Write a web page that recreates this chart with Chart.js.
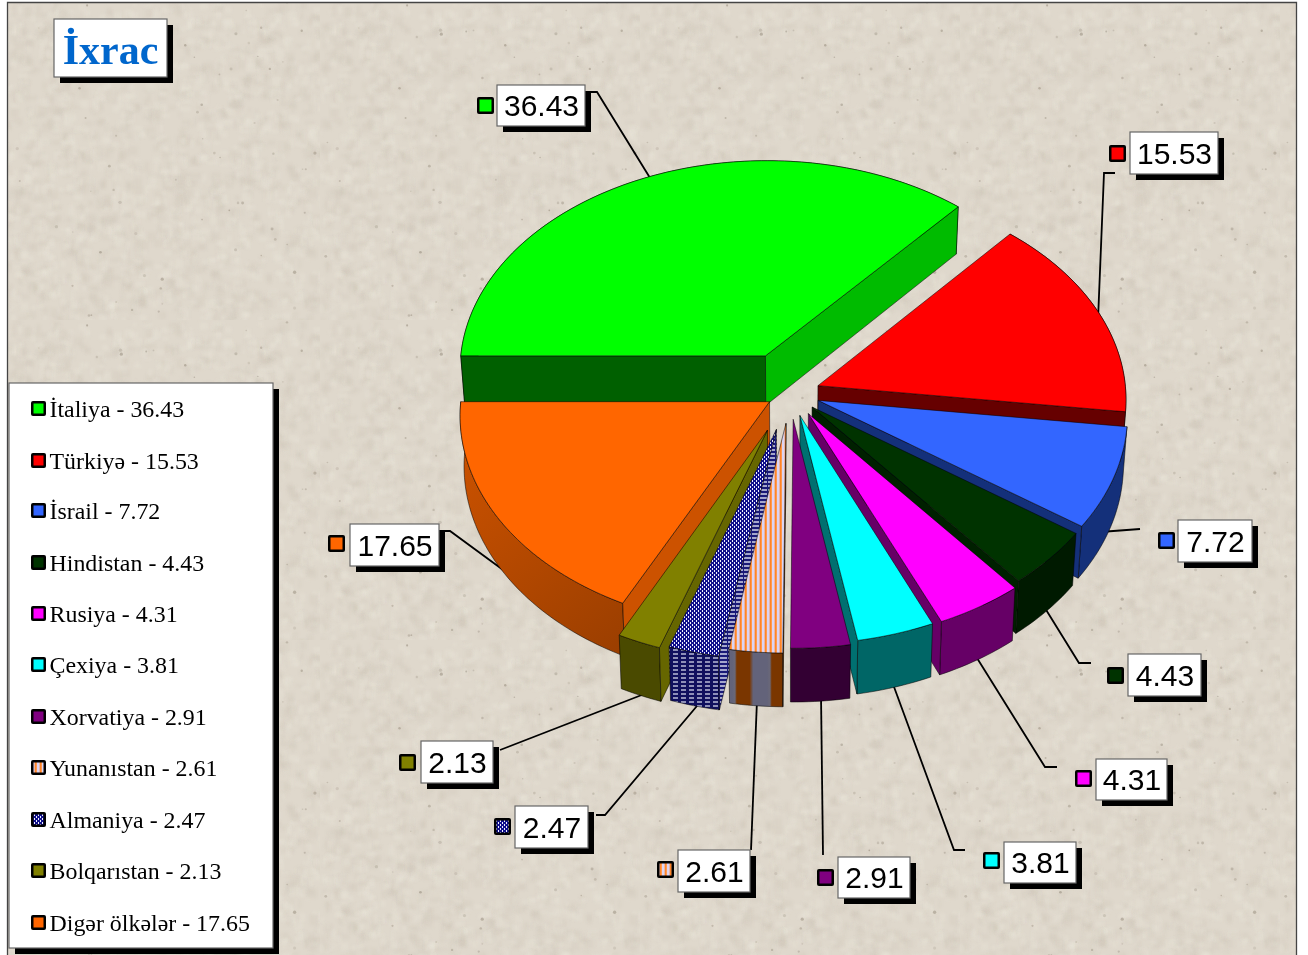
<!DOCTYPE html>
<html><head><meta charset="utf-8">
<style>html,body{margin:0;padding:0;background:#fff}canvas{display:block}</style>
<script src="https://cdn.jsdelivr.net/npm/chart.js@4"></script>
</head><body>
<div style="width:1308px;height:955px;position:relative"><canvas id="c" width="1308" height="955"></canvas></div>
<script>
const titleText = 'İxrac';
const labels = ['İtaliya','Türkiyə','İsrail','Hindistan','Rusiya','Çexiya','Xorvatiya','Yunanıstan','Almaniya','Bolqarıstan','Digər ölkələr'];
const values = [36.43,15.53,7.72,4.43,4.31,3.81,2.91,2.61,2.47,2.13,17.65];
const explode = [60,30,30,30,35,34,38,44,54,58,24];

const topColors  = ['#00FF00','#FF0000','#3366FF','#003300','#FF00FF','#00FFFF','#800080','STRIPES','DOTS','#808000','#FF6600'];
const startFaces = ['#006000','#660000','#14307A','#001A00','#660066','#007070','#4D004D','#7A3600','FACEHATCH','#666600','#CC5200'];
const endFaces   = ['#00BB00','#660000','#14307A','#002000','#660066','#007070','#4D004D','#7A3600','FACEHATCH','#666600','#CC5200'];
const rimColors  = ['#006000','#660000','#14307A','#001A00','#660066','#006666','#330033','BANDS','HATCH','#4A4A00','RIMGRAD'];

// layout of the callouts: [boxLeft, boxTop, boxRight, boxBottom, keyLeft, keyTop]
const calloutBoxes = [
 [497,85,585,126,477,97],[1130,132,1218,174,1109,145],[1178,520,1252,562,1158,532],
 [1128,654,1201,696,1107,667],[1096,759,1167,800,1075,770],[1004,842,1076,883,983,852],
 [838,857,910,898,817,869],[678,850,750,892,657,861],[515,806,588,848,494,818],
 [421,741,493,783,399,754],[350,524,439,566,328,535]];
const leaders = [
 [[590,92],[597,92],[655,186]],[[1115,173],[1104,173],[1098,320]],[[1140,529],[1100,532]],
 [[1091,663],[1079,663],[1040,600]],[[1057,767],[1045,767],[972,650]],[[965,850],[954,850],[890,676]],
 [[823,855],[821,695]],[[751,850],[757,700]],[[596,815],[605,815],[702,700]],
 [[500,750],[652,691]],[[442,531],[450,531],[510,575]]];
const legendRows = [409,461,511,563,614,665,717,768,820,871,923];

const TILT = 0.687, PERSPECTIVE = 5000, DEPTH = 50, TAPER = 0.012;

function mkPattern(w,h,draw){
  const o=document.createElement('canvas');o.width=w;o.height=h;
  const x=o.getContext('2d');draw(x,w,h);
  return x.createPattern(o,'repeat');
}
const ctx0=document.getElementById('c').getContext('2d');
const fills={
 STRIPES:mkPattern(5,5,(x)=>{const g=x.createLinearGradient(0,0,5,0);
   g.addColorStop(0,'#FF7A14');g.addColorStop(.3,'#FF9A50');g.addColorStop(.5,'#DCD4F2');g.addColorStop(.85,'#DCD4F2');g.addColorStop(1,'#FF7A14');
   x.fillStyle=g;x.fillRect(0,0,5,5);}),
 DOTS:mkPattern(4,4,(x)=>{x.fillStyle='#10108C';x.fillRect(0,0,4,4);x.fillStyle='#F0F0FF';x.fillRect(0,0,1,2);x.fillRect(2,2,1,2);}),
 HATCH:mkPattern(8,4,(x)=>{x.fillStyle='#10105E';x.fillRect(0,0,8,4);x.fillStyle='#8E90B8';x.fillRect(1,1,5,2);}),
 FACEHATCH:mkPattern(8,4,(x)=>{x.fillStyle='#1A1A78';x.fillRect(0,0,8,4);x.fillStyle='#A4A6CC';x.fillRect(0,1,7,2);}),
 BANDS:mkPattern(35,4,(x)=>{const g=x.createLinearGradient(0,0,35,0);
   g.addColorStop(0,'#6A6878');g.addColorStop(.05,'#7A3600');g.addColorStop(.42,'#7A3600');g.addColorStop(.52,'#63637A');g.addColorStop(.92,'#63637A');g.addColorStop(1,'#6A6878');
   x.fillStyle=g;x.fillRect(0,0,35,4);}),
 RIMGRAD:(()=>{const g=ctx0.createLinearGradient(460,440,630,650);g.addColorStop(0,'#CC5200');g.addColorStop(1,'#9A3E00');return g;})()
};
const fillOf=c=>fills[c]||c;

// paper texture for the chart background
function texture(){
  const S=320,o=document.createElement('canvas');o.width=S;o.height=S;const x=o.getContext('2d');
  let seed=12345;const rnd=()=>(seed=(seed*1664525+1013904223)>>>0)/4294967296;
  x.fillStyle='#DFD8CC';x.fillRect(0,0,S,S);
  x.filter='blur(1.5px)';
  for(let i=0;i<2200;i++){const r=rnd();
    x.fillStyle=r<.5?'rgba(205,196,182,.22)':'rgba(236,230,222,.26)';
    const w=2+rnd()*8,h=2+rnd()*8;x.fillRect(rnd()*S,rnd()*S,w,h);}
  x.filter='blur(.5px)';
  for(let i=0;i<70;i++){x.fillStyle='rgba(150,140,125,'+(.2+rnd()*.35)+')';
    x.beginPath();x.arc(rnd()*S,rnd()*S,.7+rnd()*1,0,7);x.fill();}
  x.filter='none';
  return o;
}
const tex=texture();

function box(c,l,t,r,b,sx,sy){
  c.fillStyle='#000';c.fillRect(l+sx,t+sy,r-l,b-t);
  c.fillStyle='#fff';c.fillRect(l,t,r-l,b-t);
  c.strokeStyle='#666';c.lineWidth=1.2;c.strokeRect(l,t,r-l,b-t);
}
function swatch(c,x,y,s,fill){
  c.fillStyle='#000';c.beginPath();c.roundRect(x,y,s,s,2);c.fill();
  c.fillStyle=fill;c.fillRect(x+2.5,y+2.5,s-5,s-5);
}

const pie3d={
 id:'pie3d',
 beforeDraw(chart){
  const c=chart.ctx;
  c.save();
  c.fillStyle='#fff';c.fillRect(0,0,1308,955);
  c.beginPath();c.rect(8,3,1288,952);c.clip();
  for(let y=0;y<955;y+=320)for(let x=0;x<1308;x+=320)c.drawImage(tex,x,y);
  c.restore();
  c.strokeStyle='#444';c.lineWidth=1.3;
  c.beginPath();c.moveTo(7.5,955);c.lineTo(7.5,2.5);c.lineTo(1296.5,2.5);c.lineTo(1296.5,955);c.stroke();
 },
 beforeDatasetsDraw(chart){
  const c=chart.ctx, meta=chart.getDatasetMeta(0);
  c.save();
  // leader lines sit under the pie
  c.strokeStyle='#000';c.lineWidth=1.8;
  leaders.forEach(l=>{c.beginPath();l.forEach((p,i)=>i?c.lineTo(p[0],p[1]):c.moveTo(p[0],p[1]));c.stroke();});

  const cx=meta.data[0].x, cy=meta.data[0].y;
  const proj=(X,Y,z)=>{const k=1/(1-Y/PERSPECTIVE);return [cx+X*k*(1-TAPER*z), cy+Y*TILT*k+z*DEPTH*k];};
  const items=meta.data.map((el,i)=>{
    const mid=(el.startAngle+el.endAngle)/2, off=el.options.offset;
    return {el,i,ox:Math.cos(mid)*off,oy:Math.sin(mid)*off,my:Math.sin(mid)};
  }).sort((a,b)=>a.my-b.my);
  const poly=(pts,fill,el)=>{
    c.beginPath();pts.forEach((p,i)=>i?c.lineTo(p[0],p[1]):c.moveTo(p[0],p[1]));c.closePath();
    c.fillStyle=fill;c.fill();
    c.strokeStyle=el.options.borderColor;c.lineWidth=el.options.borderWidth;c.stroke();
  };
  items.forEach(({el,i,ox,oy})=>{
    const R=el.outerRadius,a0=el.startAngle,a1=el.endAngle,n=Math.max(4,Math.ceil((a1-a0)/0.02));
    const edge=(z)=>{const p=[];for(let j=0;j<=n;j++){const a=a0+(a1-a0)*j/n;p.push(proj(ox+Math.cos(a)*R,oy+Math.sin(a)*R,z));}return p;};
    const ap0=proj(ox,oy,0),ap1=proj(ox,oy,1),t=edge(0),b=edge(1);
    poly(t.concat(b.slice().reverse()),fillOf(rimColors[i]),el);
    if(Math.cos(a0)<0) poly([ap0,t[0],b[0],ap1],fillOf(startFaces[i]),el);
    if(Math.cos(a1)>0) poly([ap0,t[n],b[n],ap1],fillOf(endFaces[i]),el);
    poly([ap0].concat(t),el.options.backgroundColor,el);
  });

  // callouts
  c.textAlign='center';c.textBaseline='alphabetic';
  calloutBoxes.forEach((b,i)=>{
    box(c,b[0],b[1],b[2],b[3],6,6);
    swatch(c,b[4],b[5],17,fillOf(topColors[i]));
    c.font='30px "Liberation Sans"';c.fillStyle='#000';
    c.fillText(values[i].toFixed(2),(b[0]+b[2])/2+.5,(b[1]+b[3])/2+10.5);
  });

  // title
  box(c,54,19,167,77,6,6);
  c.font='bold 42px "Liberation Serif"';c.fillStyle='#0066CC';
  c.fillText(titleText,110.5,64);

  // legend
  box(c,9,383,273,948,6,6);
  c.textAlign='left';
  c.font='23.9px "Liberation Serif"';
  legendRows.forEach((y,i)=>{
    swatch(c,31,y-8,15,fillOf(topColors[i]));
    c.fillStyle='#000';
    c.fillText(labels[i]+' - '+values[i].toFixed(2),49.5,y+8);
  });
  c.restore();
  return false;
 }
};

new Chart(document.getElementById('c'),{
 type:'pie',
 data:{labels,datasets:[{data:values,offset:explode,radius:308,
   backgroundColor:topColors.map(fillOf),borderColor:'rgba(0,0,0,.65)',borderWidth:.8}]},
 options:{
  responsive:false,animation:false,rotation:270,
  layout:{padding:{left:272,top:0,right:0,bottom:169}},
  plugins:{legend:{display:false},title:{display:false},tooltip:{enabled:false}}
 },
 plugins:[pie3d]
});
</script>
</body></html>
